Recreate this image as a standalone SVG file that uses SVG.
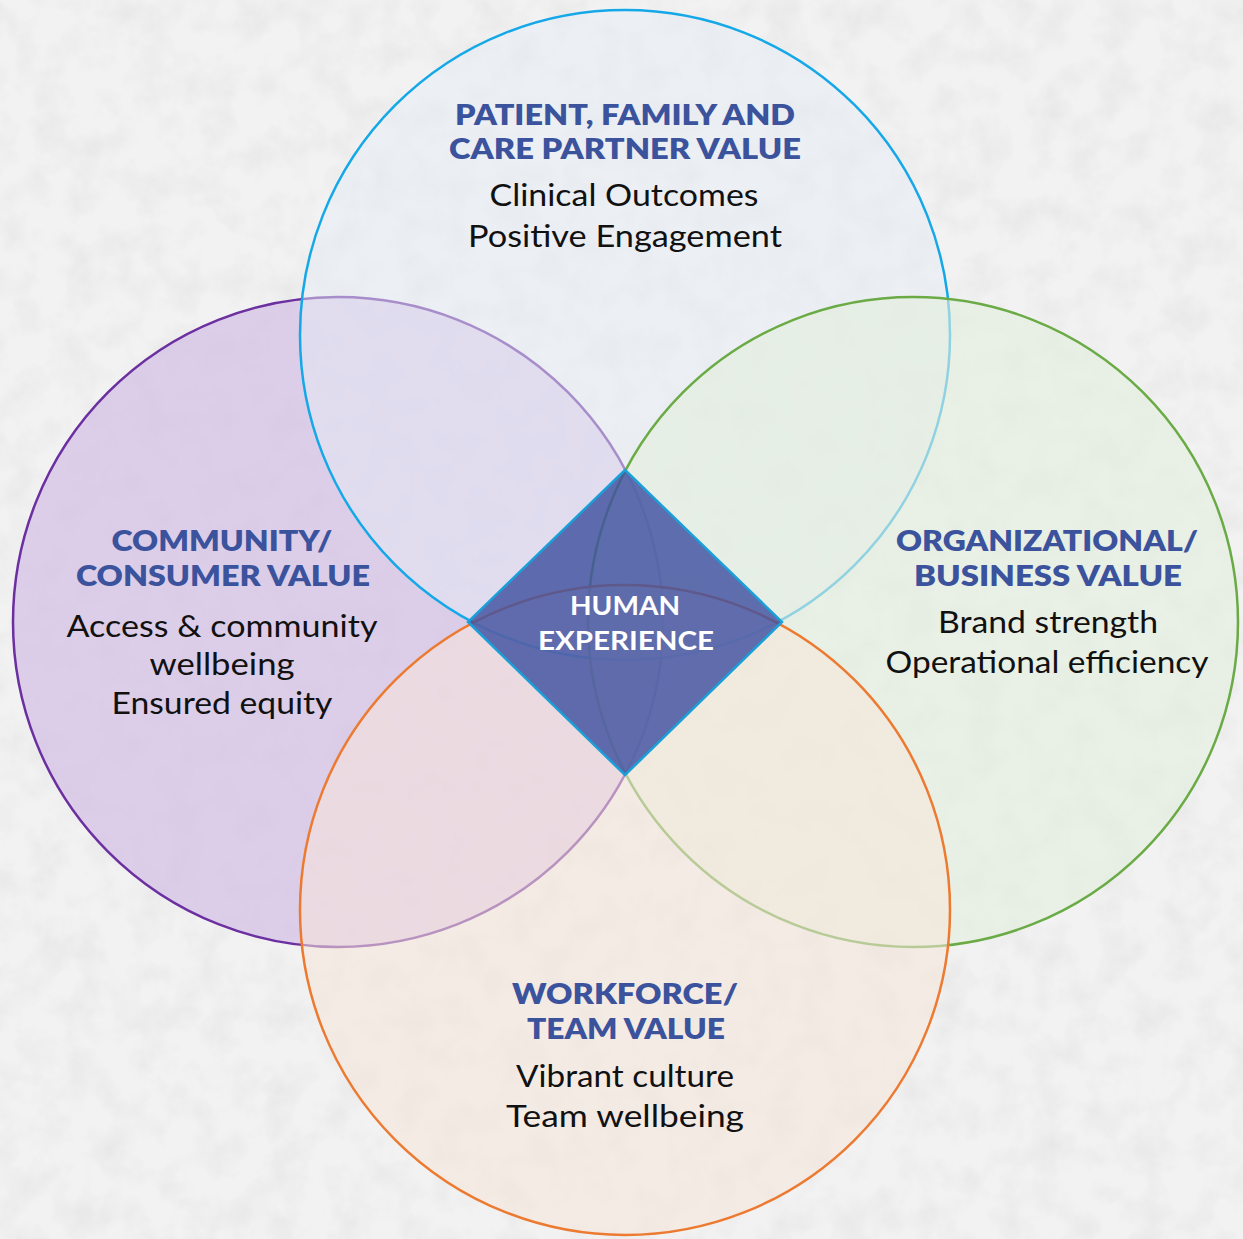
<svg xmlns="http://www.w3.org/2000/svg" width="1243" height="1239" viewBox="0 0 1243 1239">
  <defs>
    <!-- paper grain for the backdrop -->
    <filter id="grain" x="0" y="0" width="100%" height="100%">
      <feTurbulence type="fractalNoise" baseFrequency="0.03" numOctaves="4" seed="7" result="n"/>
      <feColorMatrix in="n" type="matrix" values="0 0 0 0 0.6  0 0 0 0 0.6  0 0 0 0 0.6  0 0 0 -1.4 0.85" result="m"/>
      <feComposite in="m" in2="SourceGraphic" operator="in"/>
    </filter>
    <style>
      .ring { stroke-width: 2.5; }
      .head { font-family: Lato, "Open Sans", sans-serif; font-weight: 800; font-size: 29px; fill: #3b529d; text-anchor: middle; }
      .body { font-family: Lato, "Open Sans", sans-serif; font-weight: 400; font-size: 30px; fill: #111111; text-anchor: middle; }
      .core { font-family: Lato, "Open Sans", sans-serif; font-weight: 700; font-size: 26px; fill: #ffffff; text-anchor: middle; }
    </style>
  </defs>

  <!-- backdrop -->
  <rect width="1243" height="1239" fill="#f2f2f2"/>
  <rect width="1243" height="1239" fill="#f2f2f2" filter="url(#grain)" opacity="0.35"/>

  <!-- value circles -->
  <g id="community">
    <circle class="ring" cx="338" cy="622" r="325" fill="#d3bfe6" fill-opacity="0.7" stroke="#6b2fa0"/>
  </g>
  <g id="patient">
    <circle class="ring" cx="625" cy="335" r="325" fill="#e6ecf6" fill-opacity="0.5" stroke="#14a8e8"/>
  </g>
  <g id="organizational">
    <circle class="ring" cx="913" cy="622" r="325" fill="#e3efdc" fill-opacity="0.6" stroke="#6aab45"/>
  </g>
  <g id="workforce">
    <circle class="ring" cx="625" cy="910" r="325" fill="#f8e6da" fill-opacity="0.55" stroke="#ec7a30"/>
  </g>

  <!-- centre diamond -->
  <g id="human-experience">
    <polygon points="625,470 782,622 625,775 468,622" fill="#3f51a0" fill-opacity="0.82" stroke="#1a9fd8" stroke-width="2.5" stroke-linejoin="miter"/>
    <text class="core" x="625" y="615" textLength="110" lengthAdjust="spacingAndGlyphs">HUMAN</text>
    <text class="core" x="626" y="650" textLength="176" lengthAdjust="spacingAndGlyphs">EXPERIENCE</text>
  </g>

  <!-- labels -->
  <g id="patient-label">
    <text class="head" x="625" y="125" textLength="340" lengthAdjust="spacingAndGlyphs">PATIENT, FAMILY AND</text>
    <text class="head" x="625" y="159" textLength="352" lengthAdjust="spacingAndGlyphs">CARE PARTNER VALUE</text>
    <text class="body" x="624" y="206" textLength="269" lengthAdjust="spacingAndGlyphs">Clinical Outcomes</text>
    <text class="body" x="625" y="247" textLength="314" lengthAdjust="spacingAndGlyphs">Positive Engagement</text>
  </g>
  <g id="community-label">
    <text class="head" x="222" y="551" textLength="221" lengthAdjust="spacingAndGlyphs">COMMUNITY/</text>
    <text class="head" x="223" y="586" textLength="294" lengthAdjust="spacingAndGlyphs">CONSUMER VALUE</text>
    <text class="body" x="222" y="637" textLength="311" lengthAdjust="spacingAndGlyphs">Access &amp; community</text>
    <text class="body" x="222" y="675" textLength="145" lengthAdjust="spacingAndGlyphs">wellbeing</text>
    <text class="body" x="222" y="714" textLength="221" lengthAdjust="spacingAndGlyphs">Ensured equity</text>
  </g>
  <g id="organizational-label">
    <text class="head" x="1047" y="551" textLength="302" lengthAdjust="spacingAndGlyphs">ORGANIZATIONAL/</text>
    <text class="head" x="1048" y="586" textLength="268" lengthAdjust="spacingAndGlyphs">BUSINESS VALUE</text>
    <text class="body" x="1048" y="633" textLength="220" lengthAdjust="spacingAndGlyphs">Brand strength</text>
    <text class="body" x="1047" y="673" textLength="323" lengthAdjust="spacingAndGlyphs">Operational efficiency</text>
  </g>
  <g id="workforce-label">
    <text class="head" x="625" y="1004" textLength="226" lengthAdjust="spacingAndGlyphs">WORKFORCE/</text>
    <text class="head" x="626" y="1039" textLength="198" lengthAdjust="spacingAndGlyphs">TEAM VALUE</text>
    <text class="body" x="625" y="1087" textLength="218" lengthAdjust="spacingAndGlyphs">Vibrant culture</text>
    <text class="body" x="625" y="1127" textLength="238" lengthAdjust="spacingAndGlyphs">Team wellbeing</text>
  </g>

  <!-- no connectors between the circles -->
  <g id="connectors"/>
</svg>
